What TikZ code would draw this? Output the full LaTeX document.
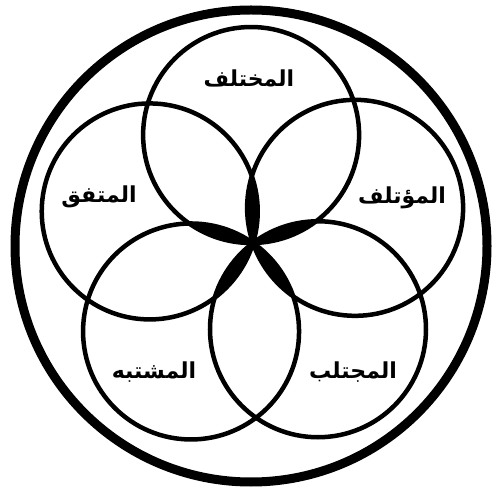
\documentclass[tikz,border=0pt]{standalone}
\usepackage{fontspec}
\usetikzlibrary{calc}
\newfontfamily\arabicfont[Script=Arabic]{DejaVu Sans}
\TeXXeTstate=1
\tikzset{
  ring/.style={draw=black, line width=4.5pt},
  outerring/.style={draw=black, line width=9pt},
  lbl/.style={font=\arabicfont\bfseries\fontsize{22}{26}\selectfont, inner sep=0pt},
}
\newcommand{\rr}{108pt}
\begin{document}
\begin{tikzpicture}[x=1pt,y=1pt]
\useasboundingbox (0,0) rectangle (491,493);
\fill[white] (0,0) rectangle (491,493);
\coordinate (O) at (253,250);
\coordinate (OC) at (251,247);
\coordinate (cT) at ($(O)+(91:108)$);
\coordinate (cL) at ($(O)+(163:108)$);
\coordinate (cR) at ($(O)+(19:108)$);
\coordinate (cBL) at ($(O)+(235:108)$);
\coordinate (cBR) at ($(O)+(307:108)$);
% star lenses
\foreach \a/\b in {cT/cBL, cBL/cR, cR/cL, cL/cBR, cBR/cT}{
  \begin{scope}
    \clip (\a) circle (\rr);
    \fill[black] (\b) circle (\rr);
  \end{scope}
}
\draw[outerring] (OC) circle (236pt);
\foreach \c in {cT,cL,cR,cBL,cBR}{
  \draw[ring] (\c) circle (\rr);
}
\node[lbl] (tT) at (249,415) {\beginR المختلف\endR};
\node[lbl] (tL) at (99,296) {\beginR المتفق\endR};
\node[lbl] (tR) at (402,295) {\beginR المؤتلف\endR};
\node[lbl] (tBL) at (154,121) {\beginR المشتبه\endR};
\node[lbl] (tBR) at (353,121) {\beginR المجتلب\endR};
\end{tikzpicture}
\end{document}
